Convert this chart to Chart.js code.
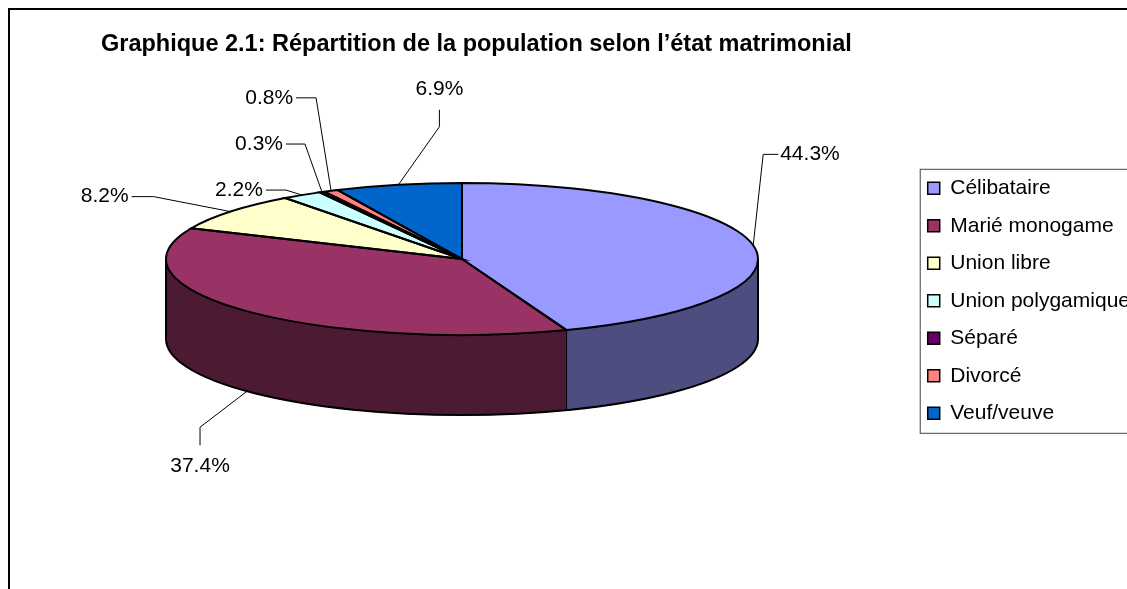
<!DOCTYPE html>
<html>
<head>
<meta charset="utf-8">
<title>Graphique 2.1</title>
<script src="https://cdn.jsdelivr.net/npm/chart.js@4.4.1/dist/chart.umd.min.js"></script>
<style>
  body   { margin:0; background:#fff; overflow:hidden; width:1127px; height:589px; }
  .frame { position:absolute; left:8px; top:8px; width:1300px; height:800px; border-left:2px solid #000; border-top:2px solid #000; }
  #chart { position:absolute; left:0; top:0; }
</style>
</head>
<body>
<div class="frame"></div>
<canvas id="chart" width="1140" height="589"></canvas>
<script>
var categories = ['Célibataire', 'Marié monogame', 'Union libre', 'Union polygamique', 'Séparé', 'Divorcé', 'Veuf/veuve'];
var values = [44.3, 37.4, 8.2, 2.2, 0.3, 0.8, 6.9];
var colors = ['#9999FF', '#993366', '#FFFFCC', '#CCFFFF', '#660066', '#FF8080', '#0066CC'];

var FONT = 'Arial, "Liberation Sans", sans-serif';

// side wall colour = top colour at half brightness
function darker(hex) {
  var n = parseInt(hex.slice(1), 16);
  var r = Math.round(((n >> 16) & 255) / 2), g = Math.round(((n >> 8) & 255) / 2), b = Math.round((n & 255) / 2);
  return 'rgb(' + r + ',' + g + ',' + b + ')';
}

// squashes the library's pie into a tilted ellipse and adds the depth + labels
var pie3d = {
  id: 'pie3d',
  beforeDatasetsDraw: function(chart, args, o) {
    var ctx = chart.ctx;
    var arcs = chart.getDatasetMeta(0).data;
    var wins = [[0, Math.PI], [2 * Math.PI, 3 * Math.PI]];
    ctx.save();
    arcs.forEach(function(arc, i) {
      wins.forEach(function(w) {
        var a = Math.max(arc.startAngle, w[0]), b = Math.min(arc.endAngle, w[1]);
        if (b <= a) return;
        ctx.beginPath();
        ctx.ellipse(o.cx, o.cy, o.rx, o.ry, 0, a, b);
        ctx.ellipse(o.cx, o.cy + o.depth, o.rx, o.ry, 0, b, a, true);
        ctx.closePath();
        ctx.fillStyle = darker(colors[i]);
        ctx.fill();
        ctx.lineWidth = 1;
        ctx.strokeStyle = '#000';
        ctx.stroke();
      });
    });
    // outer silhouette of the wall
    ctx.beginPath();
    ctx.moveTo(o.cx + o.rx, o.cy);
    ctx.lineTo(o.cx + o.rx, o.cy + o.depth);
    ctx.ellipse(o.cx, o.cy + o.depth, o.rx, o.ry, 0, 0, Math.PI);
    ctx.lineTo(o.cx - o.rx, o.cy);
    ctx.lineWidth = 2;
    ctx.stroke();
    ctx.restore();

    var r = arcs[0].outerRadius;
    ctx.save();
    ctx.translate(o.cx, o.cy);
    ctx.scale(o.rx / r, o.ry / r);
    ctx.translate(-arcs[0].x, -arcs[0].y);
  },
  afterDatasetsDraw: function(chart, args, o) {
    var ctx = chart.ctx;
    ctx.restore();
    var arcs = chart.getDatasetMeta(0).data;
    var data = chart.data.datasets[0].data;
    ctx.save();
    ctx.strokeStyle = '#000';
    ctx.lineWidth = 2;
    arcs.forEach(function(arc) {
      ctx.beginPath();
      ctx.moveTo(o.cx, o.cy);
      ctx.ellipse(o.cx, o.cy, o.rx, o.ry, 0, arc.startAngle, arc.endAngle);
      ctx.closePath();
      ctx.stroke();
    });

    ctx.font = o.labelSize + 'px ' + FONT;
    ctx.fillStyle = '#000';
    ctx.lineWidth = 1;
    arcs.forEach(function(arc, i) {
      var mid = (arc.startAngle + arc.endAngle) / 2;
      var ax = o.cx + o.rx * Math.cos(mid);
      var ay = o.cy + o.ry * Math.sin(mid);
      if (Math.sin(mid) > 0) ay += o.depth;
      var L = o.leaders[i];
      var ex = ax + L.dx, ey = ay + L.dy;
      var tx = ex, ty = ey;
      if (L.tail === 'left') tx -= L.len;
      if (L.tail === 'right') tx += L.len;
      if (L.tail === 'up') ty -= L.len;
      if (L.tail === 'down') ty += L.len;
      ctx.beginPath();
      ctx.moveTo(ax, ay);
      ctx.lineTo(ex, ey);
      ctx.lineTo(tx, ty);
      ctx.stroke();
      var txt = data[i].toFixed(1) + '%';
      ctx.textBaseline = 'middle';
      if (L.tail === 'left') { ctx.textAlign = 'right'; ctx.fillText(txt, tx - 3, ty); }
      else if (L.tail === 'right') { ctx.textAlign = 'left'; ctx.fillText(txt, tx + 2, ty); }
      else if (L.tail === 'up') { ctx.textAlign = 'center'; ctx.fillText(txt, tx, ty - 21); }
      else { ctx.textAlign = 'center'; ctx.fillText(txt, tx, ty + 21); }
    });
    ctx.restore();
  },
  afterDraw: function(chart) {
    // frame round the legend
    var hb = chart.legend.legendHitBoxes;
    if (!hb || !hb.length) return;
    var ctx = chart.ctx;
    var top = hb[0].top - 9, bottom = hb[hb.length - 1].top + hb[hb.length - 1].height + 9;
    var left = hb[0].left - 8;
    ctx.save();
    ctx.strokeStyle = '#444';
    ctx.lineWidth = 1;
    ctx.strokeRect(left + 0.5, top + 0.5, chart.width, bottom - top);
    ctx.restore();
  }
};

new Chart(document.getElementById('chart'), {
  type: 'pie',
  data: {
    labels: categories,
    datasets: [{
      data: values,
      backgroundColor: colors,
      borderWidth: 0,
      clip: false
    }]
  },
  plugins: [pie3d],
  options: {
    responsive: false,
    animation: false,
    events: [],
    layout: { padding: { left: 41.5, right: 0, top: 0, bottom: 55.6 } },
    plugins: {
      tooltip: { enabled: false },
      title: {
        display: true,
        fullSize: false,
        text: 'Graphique 2.1: Répartition de la population selon l’état matrimonial',
        color: '#000',
        font: { family: FONT, size: 23.5, weight: 'bold' },
        padding: { top: 30, bottom: 10 }
      },
      legend: {
        position: 'right',
        fullSize: false,
        labels: {
          color: '#000',
          font: { family: FONT, size: 21 },
          boxWidth: 12,
          boxHeight: 12,
          padding: 16.5,
          generateLabels: function(chart) {
            return categories.map(function(c, i) {
              return { text: c, fillStyle: colors[i], strokeStyle: '#000', lineWidth: 1.5, hidden: false, index: i };
            });
          }
        }
      },
      pie3d: {
        cx: 462, cy: 259, rx: 296, ry: 76, depth: 80,
        labelSize: 21,
        leaders: [
          { dx: 10,  dy: -91, tail: 'right', len: 15 },
          { dx: -47, dy: 36,  tail: 'down',  len: 18 },
          { dx: -77, dy: -15, tail: 'left',  len: 22 },
          { dx: -16, dy: -5,  tail: 'left',  len: 20 },
          { dx: -17, dy: -48, tail: 'left',  len: 19 },
          { dx: -15, dy: -93, tail: 'left',  len: 20 },
          { dx: 41,  dy: -58, tail: 'up',    len: 17 }
        ]
      }
    }
  }
});
</script>
</body>
</html>
